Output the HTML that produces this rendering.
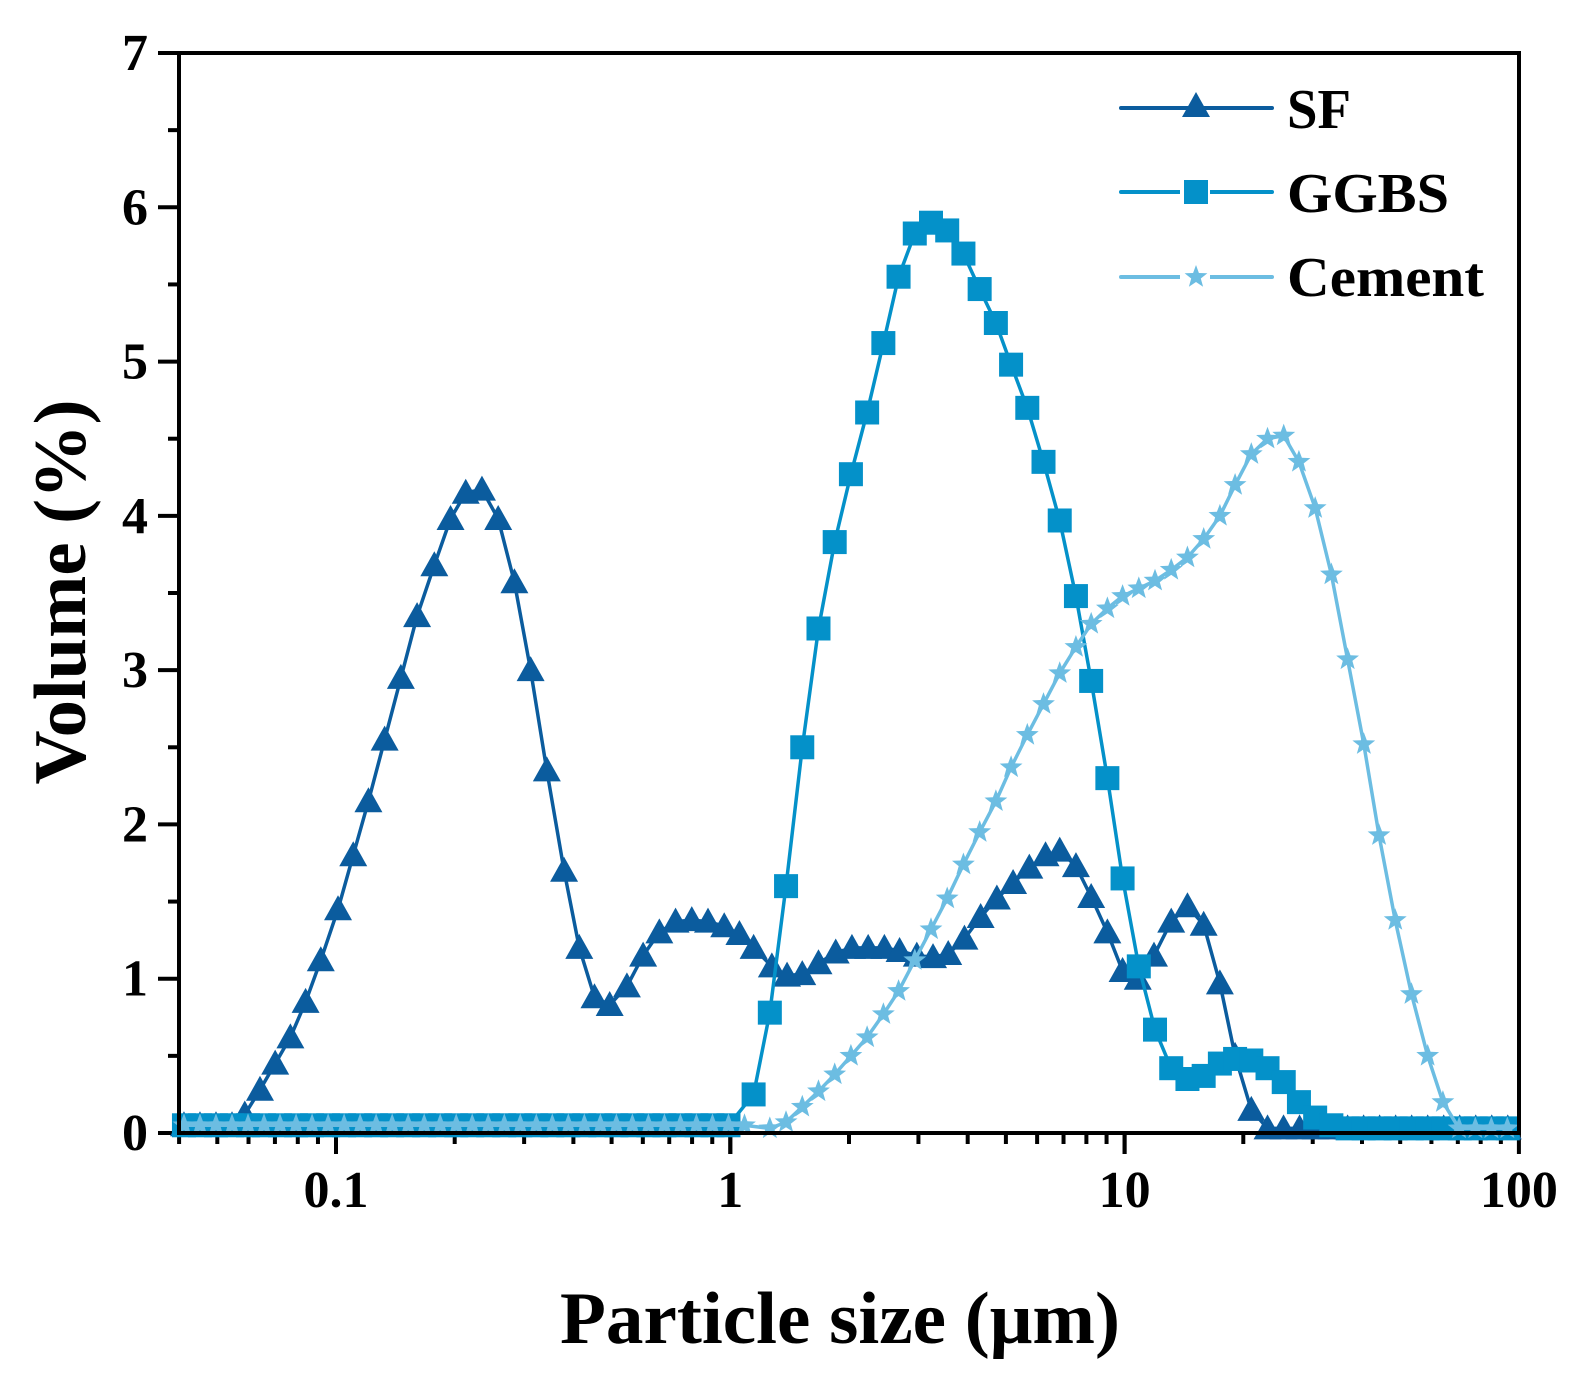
<!DOCTYPE html>
<html><head><meta charset="utf-8"><style>
html,body{margin:0;padding:0;background:#fff;}
svg{display:block;}
text{font-family:"Liberation Serif",serif;font-weight:bold;fill:#000;}
</style></head><body>
<svg id="s" width="1586" height="1393" viewBox="0 0 1586 1393" xmlns="http://www.w3.org/2000/svg">
<text x="840" y="1343" font-size="74" text-anchor="middle" textLength="560" lengthAdjust="spacingAndGlyphs">Particle size (μm)</text>
<text transform="translate(85,592) rotate(-90)" font-size="74" text-anchor="middle" textLength="385" lengthAdjust="spacingAndGlyphs">Volume (%)</text>
<g id="g"></g>
<g font-size="56">
<text x="1287" y="128" textLength="64" lengthAdjust="spacingAndGlyphs">SF</text>
<text x="1287" y="212" textLength="162" lengthAdjust="spacingAndGlyphs">GGBS</text>
<text x="1287" y="296" textLength="197" lengthAdjust="spacingAndGlyphs">Cement</text>
</g>
</svg>
<script>
var NS="http://www.w3.org/2000/svg",g=document.getElementById('g');
function el(t,a){var e=document.createElementNS(NS,t);for(var k in a)e.setAttribute(k,a[k]);g.appendChild(e);return e;}
function txt(x,y,s,anc){var e=el('text',{x:x,y:y,'font-size':52,'text-anchor':anc});e.textContent=s;}
var L=179,R=1519,T=53,B=1133,DEC=394.3;
function lx(l){return 336+(l+1)*DEC;}
function mx(p){return lx(-1+(p-333)/389);}
function my(v){return B-v*(B-T)/7;}
for(var v=0;v<=7;v+=0.5){var y=my(v);var maj=(v%1==0);el('line',{x1:L-(maj?21:11),x2:L,y1:y,y2:y,stroke:'#000','stroke-width':4});if(maj)txt(148,y+17,''+v,'end');}
for(var d=-2;d<=1;d++){for(var m=1;m<=9;m++){var l=d+Math.log10(m);if(l<-1.401||l>2.001)continue;var x=lx(l);el('line',{x1:x,x2:x,y1:B,y2:B+(m==1?21:11),stroke:'#000','stroke-width':4});}}
[[-1,'0.1'],[0,'1'],[1,'10'],[2,'100']].forEach(function(a){var x=lx(a[0]);el('line',{x1:x,x2:x,y1:B,y2:B+21,stroke:'#000','stroke-width':4});txt(x,1207,a[1],'middle');});
function flat(a,b,v){var r=[];for(var p=a;p<=b;p+=15.8)r.push([p,v]);return r;}
var SF=flat(183,231,0.05).concat([[243,.12],[258,.28],[273,.45],[288,.62],[303,.85],[318,1.12],[335,1.45],[350,1.8],[365,2.15],[381,2.55],[397,2.95],[413,3.35],[430,3.68],[446,3.98],[461,4.15],[477,4.17],[493,3.98],[509,3.57],[525,3.0],[541,2.35],[558,1.7],[573,1.2],[588,.88],[603,.83],[620,.95],[636,1.15],[652,1.3],[668,1.37],[684,1.38],[700,1.37],[716,1.34],[731,1.29],[745,1.2],[763,1.08],[778,1.02],[793,1.03],[809,1.1],[826,1.17],[842,1.2],[858,1.2],[874,1.2],[889,1.18],[906,1.15],[922,1.14],[937,1.16],[953,1.26],[969,1.4],[985,1.52],[1001,1.62],[1017,1.72],[1033,1.8],[1047,1.83],[1063,1.73],[1078,1.53],[1094,1.3],[1109,1.05],[1124,1.0],[1140,1.15],[1157,1.37],[1173,1.47],[1189,1.35],[1205,.97],[1220,.5],[1236,.15]]).concat(flat(1252,1500,0.03));
var GG=flat(183,730,0.05).concat([[745,.25],[761,.78],[777,1.6],[793,2.5],[809,3.27],[825,3.83],[841,4.27],[857,4.67],[873,5.12],[888,5.55],[904,5.83],[920,5.9],[936,5.85],[952,5.7],[968,5.47],[984,5.25],[999,4.98],[1015,4.7],[1031,4.35],[1047,3.97],[1063,3.48],[1078,2.93],[1094,2.3],[1109,1.65],[1125,1.08],[1141,.67],[1157,.42],[1173,.35],[1189,.37],[1205,.45],[1220,.48],[1236,.47],[1252,.42],[1268,.33],[1283,.2],[1299,.1],[1315,.05]]).concat(flat(1331,1500,0.03));
var CE=flat(183,740,0.05).concat([[761,.03],[777,.07],[793,.17],[809,.27],[825,.38],[841,.5],[857,.62],[873,.77],[888,.92],[904,1.12],[920,1.32],[936,1.52],[952,1.74],[968,1.95],[984,2.15],[999,2.37],[1015,2.58],[1031,2.78],[1047,2.98],[1063,3.15],[1078,3.3],[1094,3.4],[1109,3.48],[1125,3.53],[1141,3.58],[1157,3.65],[1173,3.73],[1189,3.85],[1205,4.0],[1220,4.2],[1236,4.4],[1252,4.5],[1268,4.52],[1283,4.35],[1299,4.05],[1315,3.62],[1331,3.07],[1347,2.52],[1362,1.93],[1378,1.38],[1394,.9],[1410,.5],[1425,.2],[1441,.03]]).concat(flat(1457,1500,0.03));
function tri(x,y,c){el('polygon',{points:(x-14)+','+(y+11)+' '+(x+14)+','+(y+11)+' '+x+','+(y-14),fill:c});}
function sq(x,y,c){el('rect',{x:x-12,y:y-12,width:24,height:24,fill:c});}
function star(x,y,c){var p=[];for(var i=0;i<10;i++){var r=i%2?5:12,a=-Math.PI/2+i*Math.PI/5;p.push((x+r*Math.cos(a)).toFixed(1)+','+(y+r*Math.sin(a)).toFixed(1));}el('polygon',{points:p.join(' '),fill:c});}
function series(d,c,mk){var pts=d.map(function(q){return mx(q[0]).toFixed(1)+','+my(q[1]).toFixed(1);});el('polyline',{points:pts.join(' '),fill:'none',stroke:c,'stroke-width':3.5,'stroke-linejoin':'round'});d.forEach(function(q){mk(mx(q[0]),my(q[1]),c);});}
series(SF,'#0b5c9e',tri);series(GG,'#0491c9',sq);series(CE,'#6cbde2',star);
[[108,'#0b5c9e',tri],[192,'#0491c9',sq],[277,'#6cbde2',star]].forEach(function(a){el('line',{x1:1121,x2:1272,y1:a[0],y2:a[0],stroke:a[1],'stroke-width':4,'stroke-linecap':'round'});el('rect',{x:1180,y:a[0]-16,width:30,height:32,fill:'#fff'});a[2](1196,a[0]+(a[2]===tri?-2:0),a[1]);});
el('line',{x1:1180,x2:1200,y1:108,y2:108,stroke:'#0b5c9e','stroke-width':4});
el('line',{x1:1192,x2:1212,y1:108,y2:108,stroke:'#0b5c9e','stroke-width':4});
el('rect',{x:L,y:T,width:R-L,height:B-T,fill:'none',stroke:'#000','stroke-width':4});
</script>
</body></html>
